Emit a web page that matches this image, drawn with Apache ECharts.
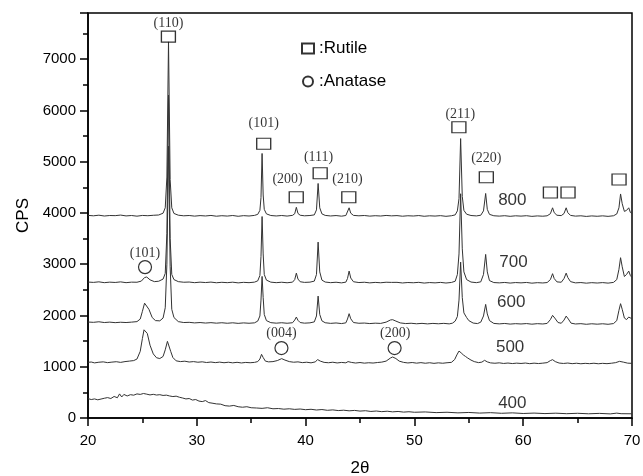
<!DOCTYPE html>
<html>
<head>
<meta charset="utf-8">
<script src="https://cdn.jsdelivr.net/npm/echarts@6/dist/echarts.min.js"></script>
<style>
  html, body { margin: 0; padding: 0; background: #fff; }
  #xrd { width: 643px; height: 476px; }
</style>
</head>
<body>
<div id="xrd"></div>
<script>
/********************** data: [2θ, CPS] **********************/
var cps800 = [[20,3952],[20.5,3944],[21,3956],[21.5,3940],[22,3950],[22.5,3947],[23,3958],[23.5,3942],[24,3950],[24.5,3937],[25,3951],[25.5,3946],[26,3954],[26.5,3960],[26.9,3995],[27.1,4100],[27.25,4700],[27.4,7350],[27.55,4650],[27.7,4100],[27.9,3990],[28.3,3956],[28.8,3944],[29.3,3950],[29.8,3938],[30.3,3948],[30.8,3941],[31.3,3951],[31.8,3936],[32.3,3946],[32.8,3939],[33.3,3950],[33.8,3935],[34.3,3947],[34.8,3940],[35.3,3952],[35.6,3972],[35.8,4050],[35.9,4300],[36.0,5160],[36.1,4350],[36.2,4070],[36.4,3982],[36.8,3950],[37.3,3941],[37.8,3950],[38.3,3939],[38.8,3953],[39.0,3985],[39.15,4110],[39.3,3990],[39.5,3955],[39.9,3944],[40.4,3950],[40.8,3962],[41.0,4060],[41.15,4575],[41.3,4100],[41.5,3982],[41.8,3952],[42.3,3941],[42.8,3949],[43.3,3937],[43.7,3950],[43.85,3988],[44.0,4100],[44.15,3995],[44.4,3952],[44.9,3944],[45.4,3950],[45.9,3938],[46.4,3946],[46.9,3940],[47.4,3951],[47.9,3943],[48.4,3948],[48.9,3936],[49.4,3945],[49.9,3940],[50.4,3949],[50.9,3935],[51.4,3944],[51.9,3939],[52.4,3947],[52.9,3934],[53.4,3945],[53.75,3962],[53.95,4040],[54.1,4280],[54.25,5450],[54.4,4320],[54.55,4050],[54.8,3975],[55.2,3950],[55.7,3942],[56.1,3955],[56.35,4040],[56.55,4380],[56.7,4070],[56.9,3972],[57.3,3945],[57.8,3938],[58.3,3946],[58.8,3934],[59.3,3944],[59.8,3938],[60.3,3946],[60.8,3933],[61.3,3942],[61.8,3936],[62.2,3944],[62.5,3985],[62.7,4100],[62.85,4005],[63.1,3955],[63.5,3948],[63.75,3988],[63.95,4100],[64.1,4005],[64.35,3952],[64.8,3938],[65.3,3944],[65.8,3932],[66.3,3942],[66.8,3935],[67.3,3943],[67.8,3933],[68.3,3945],[68.6,3980],[68.8,4100],[68.95,4370],[69.1,4180],[69.3,4030],[69.5,4050],[69.7,4100],[69.85,4010],[70,3985]];

var cps700 = [[20,2652],[20.5,2645],[21,2656],[21.5,2640],[22,2650],[22.5,2644],[23,2655],[23.5,2640],[24,2650],[24.5,2648],[24.9,2670],[25.2,2740],[25.4,2750],[25.7,2695],[26.1,2660],[26.5,2668],[26.9,2710],[27.1,2820],[27.25,3600],[27.4,6300],[27.55,3500],[27.7,2800],[27.9,2700],[28.3,2660],[28.8,2648],[29.3,2652],[29.8,2640],[30.3,2650],[30.8,2642],[31.3,2651],[31.8,2638],[32.3,2647],[32.8,2640],[33.3,2649],[33.8,2636],[34.3,2646],[34.8,2640],[35.3,2650],[35.6,2675],[35.8,2780],[35.9,3150],[36.0,3930],[36.1,3200],[36.2,2800],[36.4,2690],[36.8,2650],[37.3,2640],[37.8,2648],[38.3,2638],[38.8,2650],[39.0,2700],[39.15,2826],[39.3,2710],[39.5,2658],[39.9,2645],[40.4,2650],[40.8,2670],[41.0,2800],[41.15,3431],[41.3,2850],[41.5,2690],[41.8,2652],[42.3,2640],[42.8,2648],[43.3,2636],[43.7,2650],[43.85,2720],[44.0,2866],[44.15,2730],[44.4,2658],[44.9,2642],[45.4,2648],[45.9,2636],[46.4,2645],[46.9,2638],[47.4,2648],[47.9,2645],[48.4,2646],[48.9,2634],[49.4,2643],[49.9,2638],[50.4,2646],[50.9,2632],[51.4,2642],[51.9,2636],[52.4,2645],[52.9,2633],[53.4,2644],[53.75,2668],[53.95,2800],[54.1,3200],[54.25,4374],[54.4,3300],[54.55,2850],[54.8,2700],[55.2,2652],[55.7,2640],[56.1,2656],[56.35,2800],[56.55,3191],[56.7,2850],[56.9,2680],[57.3,2642],[57.8,2636],[58.3,2644],[58.8,2632],[59.3,2642],[59.8,2636],[60.3,2644],[60.8,2630],[61.3,2640],[61.8,2634],[62.2,2642],[62.5,2700],[62.7,2815],[62.85,2720],[63.1,2655],[63.5,2648],[63.75,2720],[63.95,2826],[64.1,2740],[64.35,2660],[64.8,2636],[65.3,2642],[65.8,2630],[66.3,2640],[66.8,2633],[67.3,2641],[67.8,2631],[68.3,2645],[68.6,2700],[68.8,2900],[68.95,3127],[69.1,2950],[69.3,2760],[69.5,2800],[69.7,2866],[69.85,2780],[70,2740]];

var cps600 = [[20,1872],[20.5,1866],[21,1877],[21.5,1862],[22,1870],[22.5,1860],[23,1868],[23.5,1862],[24,1870],[24.5,1880],[24.8,1930],[25.0,2080],[25.2,2240],[25.35,2261],[25.6,2120],[25.9,1960],[26.2,1900],[26.6,1895],[26.9,1950],[27.1,2150],[27.25,3000],[27.4,5300],[27.55,2950],[27.7,2120],[27.9,1960],[28.3,1880],[28.8,1862],[29.3,1866],[29.8,1855],[30.3,1862],[30.8,1852],[31.3,1860],[31.8,1850],[32.3,1858],[32.8,1848],[33.3,1857],[33.8,1846],[34.3,1855],[34.8,1848],[35.3,1856],[35.6,1890],[35.8,1990],[35.9,2300],[36.0,2762],[36.1,2350],[36.2,2020],[36.4,1900],[36.8,1860],[37.3,1850],[37.8,1858],[38.3,1848],[38.8,1858],[39.0,1910],[39.15,1969],[39.3,1905],[39.5,1862],[39.9,1850],[40.4,1856],[40.8,1875],[41.0,1990],[41.15,2378],[41.3,2020],[41.5,1895],[41.8,1858],[42.3,1846],[42.8,1854],[43.3,1842],[43.7,1856],[43.85,1930],[44.0,2035],[44.15,1935],[44.4,1862],[44.9,1848],[45.4,1852],[45.9,1842],[46.4,1850],[46.9,1845],[47.4,1870],[47.8,1912],[48.0,1918],[48.3,1890],[48.7,1855],[49.2,1842],[49.7,1848],[50.2,1838],[50.7,1846],[51.2,1836],[51.7,1845],[52.2,1838],[52.7,1846],[53.2,1836],[53.5,1850],[53.75,1890],[53.95,1980],[54.1,2300],[54.25,3041],[54.4,2350],[54.55,2050],[54.8,1960],[55.0,1900],[55.4,1852],[55.8,1842],[56.1,1870],[56.35,1990],[56.55,2216],[56.7,2030],[56.9,1900],[57.3,1845],[57.8,1836],[58.3,1844],[58.8,1832],[59.3,1840],[59.8,1834],[60.3,1842],[60.8,1830],[61.3,1840],[61.8,1834],[62.2,1845],[62.5,1920],[62.7,2002],[62.9,1950],[63.2,1862],[63.5,1848],[63.75,1910],[63.95,1988],[64.15,1930],[64.4,1850],[64.8,1834],[65.3,1840],[65.8,1828],[66.3,1838],[66.8,1830],[67.3,1838],[67.8,1828],[68.3,1842],[68.6,1900],[68.8,2100],[68.95,2230],[69.1,2120],[69.3,1950],[69.5,1920],[69.7,1969],[69.85,1950],[70,1935]];

var cps500 = [[20,1086],[20.3,1092],[20.6,1075],[21,1088],[21.4,1095],[21.8,1080],[22.2,1090],[22.6,1098],[23,1085],[23.4,1100],[23.8,1110],[24.2,1120],[24.5,1150],[24.8,1300],[25.0,1550],[25.15,1720],[25.3,1755],[25.45,1650],[25.7,1420],[26.0,1250],[26.3,1175],[26.6,1160],[26.9,1200],[27.1,1330],[27.3,1495],[27.45,1470],[27.6,1300],[27.8,1180],[28.1,1115],[28.5,1100],[28.9,1108],[29.3,1092],[29.7,1100],[30.1,1088],[30.5,1096],[30.9,1082],[31.3,1092],[31.7,1080],[32.1,1090],[32.5,1078],[32.9,1088],[33.3,1076],[33.7,1086],[34.1,1074],[34.5,1084],[34.9,1078],[35.3,1085],[35.6,1100],[35.8,1150],[35.95,1242],[36.1,1180],[36.3,1110],[36.6,1095],[37.0,1100],[37.4,1120],[37.8,1158],[38.1,1130],[38.5,1100],[38.9,1088],[39.3,1095],[39.7,1080],[40.1,1088],[40.5,1076],[40.9,1095],[41.1,1140],[41.2,1158],[41.35,1110],[41.7,1085],[42.1,1078],[42.5,1088],[42.9,1074],[43.3,1084],[43.7,1076],[43.9,1100],[44.05,1110],[44.2,1085],[44.6,1072],[45.0,1082],[45.4,1070],[45.8,1078],[46.2,1072],[46.6,1082],[47.0,1090],[47.4,1110],[47.8,1170],[48.0,1190],[48.3,1160],[48.6,1110],[49.0,1085],[49.4,1074],[49.8,1082],[50.2,1070],[50.6,1080],[51.0,1068],[51.4,1078],[51.8,1066],[52.2,1076],[52.6,1068],[53.0,1078],[53.4,1085],[53.7,1140],[53.9,1230],[54.1,1306],[54.3,1270],[54.5,1230],[54.7,1200],[54.9,1170],[55.2,1130],[55.5,1100],[55.9,1080],[56.2,1090],[56.45,1125],[56.7,1095],[57.0,1075],[57.4,1068],[57.8,1076],[58.2,1064],[58.6,1072],[59.0,1062],[59.4,1070],[59.8,1064],[60.2,1072],[60.6,1060],[61.0,1070],[61.4,1062],[61.8,1070],[62.2,1080],[62.5,1120],[62.7,1138],[62.95,1100],[63.3,1072],[63.7,1064],[64.1,1072],[64.5,1060],[64.9,1068],[65.3,1058],[65.7,1066],[66.1,1060],[66.5,1068],[66.9,1058],[67.3,1066],[67.7,1060],[68.1,1068],[68.5,1080],[68.85,1105],[69.2,1090],[69.6,1070],[70,1066]];

var cps400 = [[20,378],[20.3,360],[20.6,372],[20.9,355],[21.2,370],[21.5,385],[21.8,398],[22.1,380],[22.4,420],[22.7,395],[22.9,470],[23.1,410],[23.3,460],[23.6,430],[23.9,455],[24.2,445],[24.5,470],[24.8,460],[25.1,478],[25.4,465],[25.7,450],[26.0,462],[26.3,448],[26.6,455],[26.9,440],[27.2,446],[27.5,430],[27.8,418],[28.1,426],[28.4,405],[28.7,390],[29.0,372],[29.3,380],[29.6,350],[29.9,360],[30.2,330],[30.5,320],[30.8,340],[31.1,300],[31.4,290],[31.8,275],[32.2,270],[32.6,240],[33.0,232],[33.4,245],[33.8,220],[34.2,210],[34.6,220],[35.0,200],[35.5,195],[36.0,188],[36.5,200],[37.0,180],[37.5,185],[38.0,172],[38.5,180],[39.0,168],[39.5,175],[40.0,162],[40.5,170],[41.0,156],[41.5,165],[42.0,150],[42.5,158],[43.0,145],[43.5,152],[44.0,140],[44.5,148],[45.0,135],[45.5,142],[46.0,128],[46.5,136],[47.0,124],[47.5,132],[48.0,120],[48.5,128],[49.0,115],[49.5,122],[50.0,112],[51.0,118],[52.0,105],[53.0,112],[54.0,100],[55.0,108],[56.0,96],[57.0,104],[58.0,92],[59.0,100],[60.0,88],[61.0,96],[62.0,86],[63.0,94],[64.0,84],[65.0,92],[66.0,82],[67.0,90],[68.0,80],[68.6,95],[69.0,84],[70,82]];

// phase markers (2θ, CPS) and their Miller-index labels
var rutileMarks = [[27.39,7439],[36.15,5348],[39.14,4307],[41.34,4775],[43.97,4307],[54.09,5672],[56.61,4697],[62.50,4399],[64.12,4399],[68.81,4652]];
var anataseMarks = [[25.24,2943],[37.78,1364],[48.18,1364]];
var millerLabels = [[27.39,7693,'(110)'],[36.15,5744,'(101)'],[38.34,4652,'(200)'],[41.19,5087,'(111)'],[43.85,4652,'(210)'],[54.22,5919,'(211)'],[56.61,5056,'(220)'],[25.24,3204,'(101)'],[37.78,1645,'(004)'],[48.24,1645,'(200)']];
var tempLabels = [[59.0,4244,'800'],[59.1,3041,'700'],[58.9,2261,'600'],[58.8,1370,'500'],[59.0,287,'400']];

/********************** chart **********************/
var xrd = echarts.init(document.getElementById('xrd'));

function curve(name, data){
    return {name: name, type: 'line', data: data, showSymbol: false, symbol: 'none', silent: true,
        lineStyle: {color: '#333', width: 1}};
}

var sans = 'Liberation Sans, Arial, sans-serif';

var option = {
    backgroundColor: '#fff',
    animation: false,
    grid: {left: 88, right: 11, top: 13, bottom: 58, show: true, borderColor: '#000', borderWidth: 1.5,
        outerBoundsMode: 'none', containLabel: false},
    legend: {
        data: ['Rutile', 'Anatase'], orient: 'vertical', left: 296, top: 35, itemGap: 16,
        itemWidth: 12, itemHeight: 10, selectedMode: false,
        formatter: ':{name}', textStyle: {fontFamily: sans, fontSize: 17, color: '#000'}
    },
    xAxis: {
        type: 'value', min: 20, max: 70, interval: 10,
        name: '2θ', nameLocation: 'middle', nameGap: 42,
        nameTextStyle: {fontFamily: sans, fontSize: 17, color: '#000'},
        axisLine: {lineStyle: {color: '#000', width: 1.5}},
        axisTick: {inside: false, length: 8, lineStyle: {color: '#000', width: 1.5}},
        minorTick: {show: true, splitNumber: 2, length: 5, lineStyle: {color: '#000', width: 1.5}},
        axisLabel: {fontFamily: sans, fontSize: 15, color: '#000', margin: 15},
        splitLine: {show: false}
    },
    yAxis: {
        type: 'value', min: 0, max: 7900, interval: 1000,
        name: 'CPS', nameLocation: 'middle', nameGap: 54, nameRotate: 90,
        nameTextStyle: {fontFamily: sans, fontSize: 17, color: '#000'},
        axisLine: {lineStyle: {color: '#000', width: 1.5}},
        axisTick: {inside: false, length: 8, lineStyle: {color: '#000', width: 1.5}},
        minorTick: {show: true, splitNumber: 2, length: 5, lineStyle: {color: '#000', width: 1.5}},
        axisLabel: {fontFamily: sans, fontSize: 15, color: '#000', margin: 12, showMaxLabel: false,
            formatter: function(v){ return String(v); }},
        splitLine: {show: false}
    },
    series: [
        curve('400', cps400),
        curve('500', cps500),
        curve('600', cps600),
        curve('700', cps700),
        curve('800', cps800),
        {name: 'Rutile', type: 'scatter', data: rutileMarks, symbol: 'rect', symbolSize: [14, 11], silent: true,
            itemStyle: {color: '#fff', borderColor: '#000', borderWidth: 1.2}, z: 5},
        {name: 'Anatase', type: 'scatter', data: anataseMarks, symbol: 'circle', symbolSize: 13, silent: true,
            itemStyle: {color: '#fff', borderColor: '#000', borderWidth: 1.2}, z: 5},
        {name: 'miller', type: 'scatter', data: millerLabels, symbolSize: 1, silent: true,
            itemStyle: {color: 'rgba(0,0,0,0)'},
            label: {show: true, position: 'inside', formatter: function(p){ return p.value[2]; },
                fontFamily: 'Liberation Serif, Times New Roman, serif', fontSize: 14, color: '#000'}},
        {name: 'temps', type: 'scatter', data: tempLabels, symbolSize: 1, silent: true,
            itemStyle: {color: 'rgba(0,0,0,0)'},
            label: {show: true, position: 'inside', formatter: function(p){ return p.value[2]; },
                fontFamily: sans, fontSize: 17, color: '#000'}}
    ]
};

xrd.setOption(option);
</script>
</body>
</html>
